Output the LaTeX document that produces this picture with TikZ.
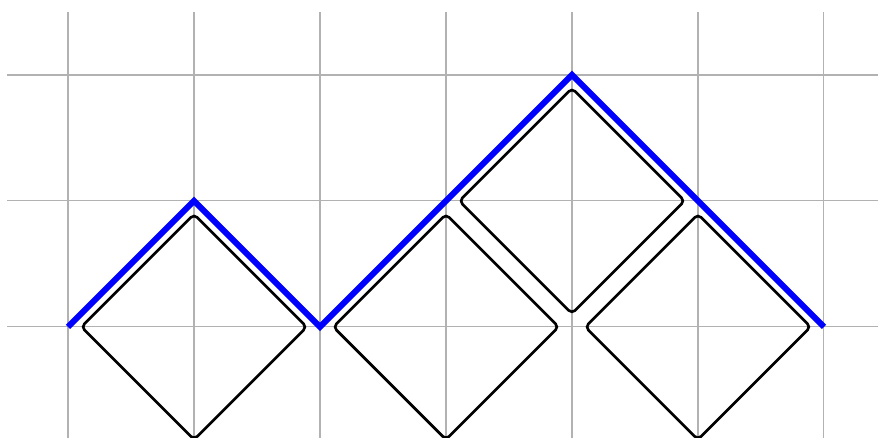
\documentclass[tikz,border=0pt]{standalone}
\usepackage{tikz}
\usepackage{xcolor}
\usetikzlibrary{positioning}
\definecolor{pathblue}{HTML}{0000ff}

\begin{document}
\begin{tikzpicture}[
  gridline/.style={gray!60, line width=0.25pt},
  cell/.style={draw=black, line width=0.6pt, rounded corners=1pt, rotate=45,
               minimum width=1.265cm, minimum height=1.265cm, inner sep=0pt},
  dyck/.style={pathblue, line width=1.35pt}
]
  \useasboundingbox (-0.540,-0.881) rectangle (6.429,2.595);
  \draw[gridline] (-0.484,-0.9) grid (6.43,2.5);
  % tiles under the path
  \node[cell] (t1) at (1,0) {};
  \node[cell] (t2) at (3,0) {};
  \node[cell] (t3) at (5,0) {};
  \node[cell] (t4) at (4,1) {};
  % the path itself
  \coordinate (p0) at (0,0);
  \coordinate (p1) at (1,1);
  \coordinate (p2) at (2,0);
  \coordinate (p3) at (3,1);
  \coordinate (p4) at (4,2);
  \coordinate (p5) at (5,1);
  \coordinate (p6) at (6,0);
  \draw[dyck] (p0) -- (p1) -- (p2) -- (p3) -- (p4) -- (p5) -- (p6);
\end{tikzpicture}
\end{document}
